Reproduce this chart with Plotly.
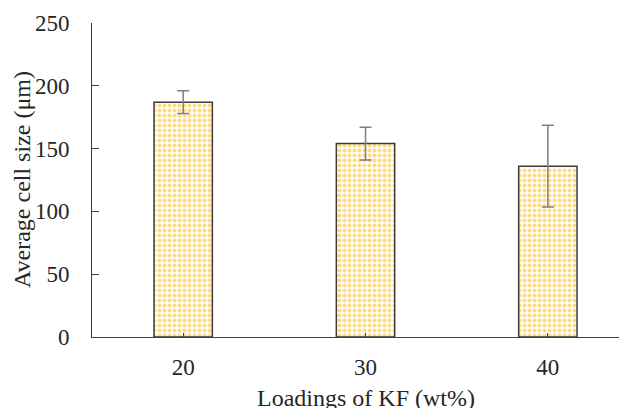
import plotly.graph_objects as go

categories = ["20", "30", "40"]
values = [187, 154, 136]
errors = [9, 13, 32.5]
y_ticks = [0, 50, 100, 150, 200, 250]

fig = go.Figure()
fig.add_trace(go.Bar(
    x=categories, y=values,
    width=0.32,
    marker=dict(
        color="white",
        line=dict(color="#3a3a3a", width=1.5),
        pattern=dict(shape=".", fgcolor="#FFB700", bgcolor="white", size=5, solidity=0.5, fillmode="overlay"),
    ),
    error_y=dict(type="data", array=errors, visible=True, color="#7f7f7f", thickness=1.5, width=6),
))

serif = "Liberation Serif, Times New Roman, serif"
# the page body has an 8px margin, so the figure is offset by 8px; compensate here
fig.update_layout(
    width=627, height=408,
    margin=dict(l=84, r=8, t=15, b=79, autoexpand=False),
    plot_bgcolor="white", paper_bgcolor="white",
    showlegend=False,
    font=dict(family=serif, size=23, color="#262626"),
    xaxis=dict(
        type="category", range=[-0.5, 2.434], automargin=False,
        showline=True, linecolor="#404040", linewidth=1,
        ticks="inside", ticklen=4, tickcolor="#404040",
        showgrid=False, zeroline=False,
        ticklabelstandoff=9,
    ),
    yaxis=dict(
        range=[0, 250], tickvals=y_ticks, automargin=False,
        showline=True, linecolor="#404040", linewidth=1,
        ticks="inside", ticklen=7, tickcolor="#404040",
        showgrid=False, zeroline=False,
        ticklabelstandoff=17,
    ),
    annotations=[
        dict(text="Loadings of KF (wt%)", xref="paper", yref="paper",
             x=0.512, y=-0.194, xanchor="center", yanchor="middle", showarrow=False,
             font=dict(family=serif, size=24, color="#262626")),
        dict(text="Average cell size (μm)", xref="paper", yref="paper",
             x=-0.1308, y=0.5, xanchor="center", yanchor="middle", textangle=-90, showarrow=False,
             font=dict(family=serif, size=24, color="#262626")),
    ],
)
fig.write_html("out.html")
